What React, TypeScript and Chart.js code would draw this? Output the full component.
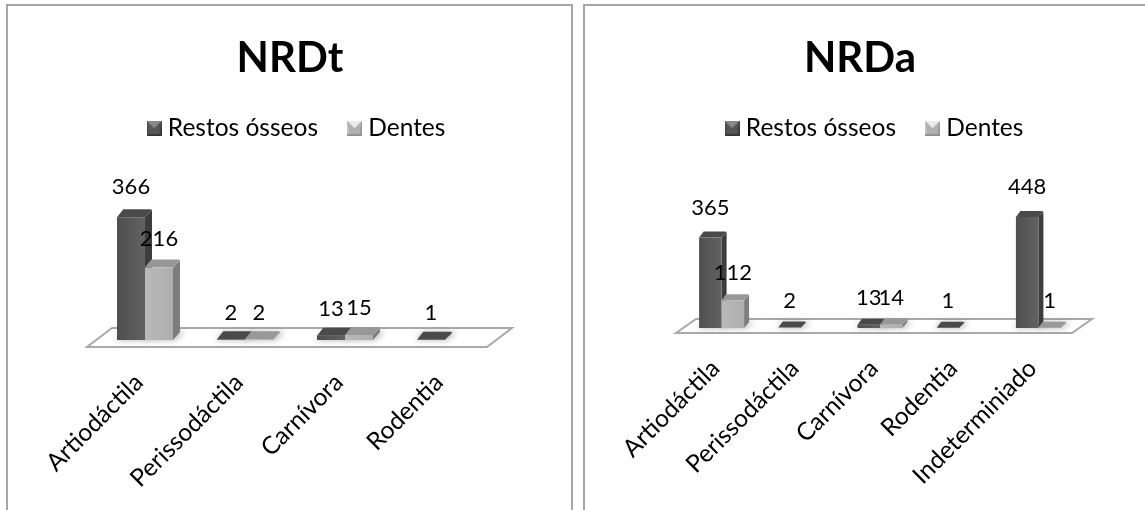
import React, { useEffect, useRef } from "react";
import { Chart, registerables } from "chart.js";

Chart.register(...registerables);

const seriesNames = ["Restos ósseos", "Dentes"];

const titleA = "NRDt";
const categoriesA = ["Artiodáctila", "Perissodáctila", "Carnívora", "Rodentia"];
const restosA = [366, 2, 13, 1];
const dentesA = [216, 2, 15, null];

const titleB = "NRDa";
const categoriesB = ["Artiodáctila", "Perissodáctila", "Carnívora", "Rodentia", "Indeterminiado"];
const restosB = [365, 2, 13, 1, 448];
const dentesB = [112, null, 14, null, 1];

const FONT = "Lato, Carlito, sans-serif";
const palette = [
  { front0: "#4f4f4f", front1: "#626262", side: "#3d3d3d", top: "#4a4a4a" },
  { front0: "#b9b9b9", front1: "#aeaeae", side: "#7d7d7d", top: "#989898" },
];

function markerCanvas(i: number) {
  const c = document.createElement("canvas");
  c.width = 15;
  c.height = 15;
  const g = c.getContext("2d")!;
  const p = i === 0
    ? { mid: "#565656", top: "#8a8a8a", left: "#4a4a4a", right: "#3f3f3f", bottom: "#333" }
    : { mid: "#b0b0b0", top: "#ececec", left: "#c4c4c4", right: "#9a9a9a", bottom: "#8c8c8c" };
  g.fillStyle = p.mid;
  g.fillRect(0, 0, 15, 15);
  const tri = (pts: number[], col: string) => {
    g.fillStyle = col;
    g.beginPath();
    g.moveTo(pts[0], pts[1]);
    g.lineTo(pts[2], pts[3]);
    g.lineTo(pts[4], pts[5]);
    g.closePath();
    g.fill();
  };
  tri([0, 0, 15, 0, 7.5, 7.5], p.top);
  tri([0, 0, 0, 15, 3, 12], p.left);
  tri([15, 0, 15, 15, 12, 12], p.right);
  g.fillStyle = p.mid;
  g.fillRect(2, 7, 11, 6);
  g.fillStyle = p.bottom;
  g.fillRect(0, 13.5, 15, 1.5);
  return c;
}

type Geo = {
  dx: number; dy: number;
  floorFront: number; floorBack: number;
  fl: number; fr: number; bl: number; br: number;
  legendCx: number; titleCx: number;
};

const bars3d = (geo: Geo) => ({
  id: "bars3d",
  beforeDatasetsDraw(chart: any) {
    const { ctx, chartArea } = chart;
    const { left, right, bottom } = chartArea;
    ctx.save();
    ctx.beginPath();
    ctx.moveTo(left + geo.fl, bottom + geo.floorFront);
    ctx.lineTo(right + geo.fr, bottom + geo.floorFront);
    ctx.lineTo(right + geo.br, bottom + geo.floorBack);
    ctx.lineTo(left + geo.bl, bottom + geo.floorBack);
    ctx.closePath();
    ctx.fillStyle = "#ffffff";
    ctx.fill();
    ctx.lineWidth = 2;
    ctx.strokeStyle = "#a9a9a9";
    ctx.stroke();
    ctx.restore();
  },
  afterDatasetsDraw(chart: any) {
    const { ctx } = chart;
    const { dx, dy } = geo;
    const base = chart.chartArea.bottom;
    const items: any[] = [];
    chart.data.datasets.forEach((ds: any, di: number) => {
      chart.getDatasetMeta(di).data.forEach((el: any, idx: number) => {
        if (ds.data[idx] == null) return;
        items.push({ el, di, idx, v: ds.data[idx] });
      });
    });
    items.forEach(({ el }) => {
      const w = el.width;
      const l = el.x - w / 2;
      ctx.save();
      ctx.filter = "blur(3px)";
      ctx.fillStyle = "rgba(120,120,120,0.55)";
      ctx.beginPath();
      ctx.moveTo(l - 2, base);
      ctx.lineTo(l + w + 2, base);
      ctx.lineTo(l + w + dx + 5, base - dy);
      ctx.lineTo(l + dx, base - dy);
      ctx.closePath();
      ctx.fill();
      ctx.restore();
    });
    items.forEach(({ el, di }) => {
      const p = palette[di];
      const w = el.width;
      const l = el.x - w / 2;
      const r = l + w;
      const t = el.y;
      ctx.fillStyle = p.side;
      ctx.beginPath();
      ctx.moveTo(r, base);
      ctx.lineTo(r + dx, base - dy);
      ctx.lineTo(r + dx, t - dy + 1);
      ctx.lineTo(r, t);
      ctx.closePath();
      ctx.fill();
      ctx.fillStyle = p.top;
      ctx.beginPath();
      ctx.moveTo(l, t);
      ctx.lineTo(l + dx * 0.9, t - dy);
      ctx.lineTo(r + dx - 1, t - dy);
      ctx.lineTo(r + dx, t - dy + 1);
      ctx.lineTo(r, t);
      ctx.closePath();
      ctx.fill();
      if (base - t > 0.5) {
        const g = ctx.createLinearGradient(l, 0, r, 0);
        g.addColorStop(0, p.front0);
        g.addColorStop(1, p.front1);
        ctx.fillStyle = g;
        ctx.fillRect(l, t, w, base - t);
      }
    });
    ctx.save();
    ctx.font = `22px ${FONT}`;
    ctx.fillStyle = "#000";
    ctx.textAlign = "center";
    ctx.textBaseline = "middle";
    items.forEach(({ el, v }) => {
      const offset = 26.5 + (base - el.y) * 0.03;
      ctx.fillText(String(v), el.x, el.y - offset);
    });
    ctx.restore();
  },
  afterLayout(chart: any) {
    const lg = chart.legend;
    const half = (lg.right - lg.left) / 2;
    lg.left = geo.legendCx - half;
    lg.right = geo.legendCx + half;
    const tt = chart.titleBlock;
    const ht = (tt.right - tt.left) / 2;
    tt.left = geo.titleCx - ht;
    tt.right = geo.titleCx + ht;
  },
});

function makeChart(
  canvas: HTMLCanvasElement,
  title: string,
  labels: string[],
  a: (number | null)[],
  b: (number | null)[],
  cfg: { padL: number; padR: number; axisH: number; yMax: number; tickPad: number; tickShift: number; catPct: number; geo: Geo }
) {
  return new Chart(canvas, {
    type: "bar",
    data: {
      labels,
      datasets: [
        { label: seriesNames[0], data: a, backgroundColor: "rgba(0,0,0,0)", categoryPercentage: cfg.catPct, barPercentage: 1 },
        { label: seriesNames[1], data: b, backgroundColor: "rgba(0,0,0,0)", categoryPercentage: cfg.catPct, barPercentage: 1 },
      ],
    },
    options: {
      animation: false,
      responsive: false,
      layout: { padding: { left: cfg.padL, right: cfg.padR, top: 0, bottom: 0 } },
      scales: {
        x: {
          grid: { display: false },
          border: { display: false },
          ticks: {
            color: "#000",
            font: { family: FONT, size: 24.5 },
            minRotation: 45,
            maxRotation: 45,
            autoSkip: false,
            padding: cfg.tickPad,
            labelOffset: cfg.tickShift,
          },
          afterFit(scale: any) {
            scale.height = cfg.axisH;
            scale.paddingLeft = 0;
            scale.paddingRight = 0;
          },
        },
        y: { display: false, min: 0, max: cfg.yMax },
      },
      plugins: {
        tooltip: { enabled: false },
        title: {
          display: true,
          text: title,
          color: "#000",
          font: { family: FONT, size: 42, weight: "bold", lineHeight: 1 },
          padding: { top: 37, bottom: 2 },
        },
        legend: {
          display: true,
          position: "top",
          onClick: () => {},
          labels: {
            color: "#000",
            font: { family: FONT, size: 24.5 },
            padding: 35,
            usePointStyle: true,
            pointStyleWidth: 3,
            boxHeight: 15,
            generateLabels: () =>
              seriesNames.map((text, i) => ({
                text,
                datasetIndex: i,
                pointStyle: markerCanvas(i),
                fillStyle: "#000",
                strokeStyle: "#000",
                lineWidth: 0,
                fontColor: "#000",
              })),
          },
        },
      },
    } as any,
    plugins: [bars3d(cfg.geo)],
  });
}

export default function App() {
  const leftRef = useRef<HTMLCanvasElement>(null);
  const rightRef = useRef<HTMLCanvasElement>(null);
  useEffect(() => {
    const c1 = makeChart(leftRef.current!, titleA, categoriesA, restosA, dentesA, {
      padL: 88,
      padR: 79,
      axisH: 170,
      yMax: 565,
      tickPad: 20,
      tickShift: -6,
      catPct: 0.56,
      geo: { dx: 7, dy: 8, floorFront: 7, floorBack: -12, fl: -8, fr: -8, bl: 17, br: 17, legendCx: 292, titleCx: 283 },
    });
    const c2 = makeChart(rightRef.current!, titleB, categoriesB, restosB, dentesB, {
      padL: 98,
      padR: 58,
      axisH: 182,
      yMax: 716,
      tickPad: 18,
      tickShift: -6,
      catPct: 0.568,
      geo: { dx: 5, dy: 6, floorFront: 5, floorBack: -9, fl: -6, fr: -6, bl: 14, br: 14, legendCx: 293, titleCx: 276 },
    });
    return () => {
      c1.destroy();
      c2.destroy();
    };
  }, []);
  const frame = "2px solid #a6a6a6";
  return (
    <div style={{ position: "fixed", left: 0, top: 0, width: 1145, height: 510, background: "#fff", overflow: "hidden" }}>
      <div style={{ position: "absolute", left: 6, top: 4, width: 567, height: 506, borderLeft: frame, borderTop: frame, borderRight: frame, boxSizing: "border-box" }} />
      <div style={{ position: "absolute", left: 583, top: 4, width: 570, height: 506, borderLeft: frame, borderTop: frame, boxSizing: "border-box" }} />
      <canvas ref={leftRef} width={567} height={510} style={{ position: "absolute", left: 7, top: 0, width: 567, height: 510 }} />
      <canvas ref={rightRef} width={552} height={510} style={{ position: "absolute", left: 584, top: 0, width: 552, height: 510 }} />
    </div>
  );
}
